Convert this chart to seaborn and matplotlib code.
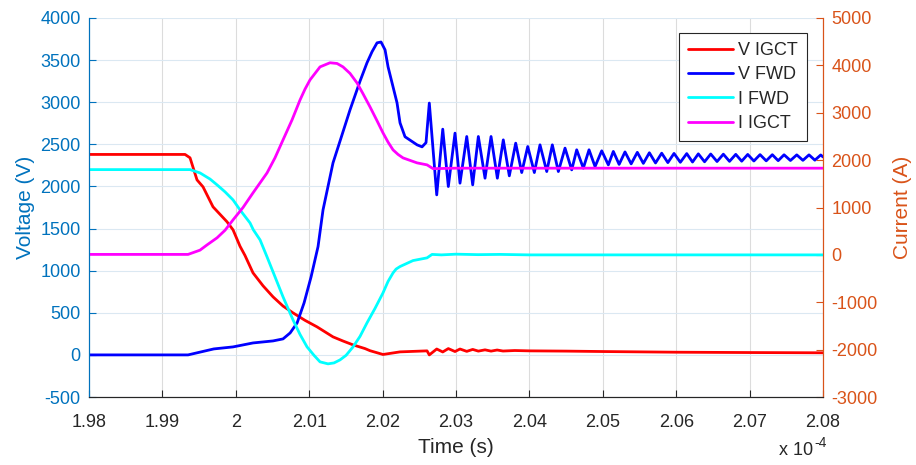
import matplotlib
matplotlib.use("Agg")
import matplotlib.pyplot as plt
import matplotlib.ticker as mticker
import pandas as pd
import seaborn as sns
import numpy as np

# time axis is in units of 1e-4 s
# V IGCT (left axis, volts)
v_igct_t = [1.98, 1.99308, 1.99376, 1.99471, 1.99553, 1.99689, 1.99880, 1.99962, 2.00057,
            2.00125, 2.00234, 2.00371, 2.00507, 2.00643, 2.00779, 2.00943, 2.01106, 2.01324,
            2.01460, 2.01597, 2.01760, 2.01828, 2.02005, 2.02237,
            2.02605, 2.02636, 2.02737, 2.02819, 2.02895, 2.02986, 2.03054, 2.03146, 2.03227,
            2.03304, 2.03395, 2.03477, 2.0356, 2.0364, 2.038, 2.04, 2.045, 2.05, 2.06, 2.07, 2.08]
v_igct = [2380, 2380, 2340, 2078, 1995, 1758, 1580, 1485, 1290,
          1180, 974, 820, 689, 580, 499, 410, 333, 214,
          165, 119, 75, 50, 5, 36,
          48, 0, 70, 35, 75, 40, 70, 42, 65,
          45, 60, 45, 58, 46, 52, 48, 45, 40, 32, 28, 25]

# V FWD (left axis) before the ringing
v_fwd_t = [1.98, 1.99349, 1.99700, 1.99962, 2.00234, 2.00507, 2.00643, 2.00740, 2.00835,
           2.00930, 2.01025, 2.01120, 2.01188, 2.01324, 2.01420, 2.01556, 2.01692, 2.01787,
           2.01856, 2.01924, 2.01978, 2.02033, 2.02074, 2.02196, 2.02237, 2.02305, 2.02469,
           2.02537, 2.02591]
v_fwd = [0, 0, 71, 95, 142, 166, 190, 261, 380,
         618, 926, 1286, 1722, 2280, 2540, 2910, 3250, 3468,
         3600, 3705, 3715, 3622, 3420, 2993, 2755, 2590, 2494,
         2470, 2520]

# V FWD ringing: peaks and troughs
ring_peak_t = [2.02636, 2.02819, 2.02986, 2.03146, 2.03304, 2.03477, 2.03644, 2.03813, 2.03977,
               2.04144, 2.04312, 2.04485, 2.04644, 2.04812, 2.04985, 2.05143, 2.05302, 2.05470,
               2.05634, 2.05802, 2.05970, 2.06143, 2.06301, 2.06470, 2.06642, 2.06811, 2.06974,
               2.07142, 2.07309, 2.07469, 2.07642, 2.07809, 2.07969]
ring_peak_v = [2990, 2680, 2633, 2593, 2593, 2593, 2553, 2514, 2474,
               2494, 2494, 2455, 2435, 2435, 2423, 2416, 2410, 2405,
               2400, 2395, 2392, 2390, 2387, 2385, 2383, 2381, 2380,
               2378, 2377, 2376, 2375, 2375, 2374]
ring_trough_t = [2.02737, 2.02895, 2.03054, 2.03227, 2.03395, 2.03563, 2.03726, 2.03895, 2.04067,
                 2.04236, 2.04394, 2.04576, 2.04734, 2.04894, 2.05075, 2.05222, 2.05386, 2.05552,
                 2.05718, 2.05886, 2.06056, 2.06222, 2.06386, 2.06556, 2.06726, 2.06892, 2.07058,
                 2.07226, 2.07389, 2.07556, 2.07726, 2.07889, 2.08]
ring_trough_v = [1900, 1999, 2039, 2019, 2098, 2098, 2126, 2165, 2165,
                 2177, 2177, 2197, 2217, 2236, 2256, 2262, 2268, 2274,
                 2279, 2283, 2287, 2290, 2293, 2296, 2298, 2300, 2302,
                 2304, 2306, 2308, 2310, 2312, 2350]

# I FWD (right axis, amps)
i_fwd_t = [1.98, 1.99376, 1.99512, 1.99649, 1.99744, 1.99853, 1.99962, 2.00057, 2.00193,
           2.00239, 2.00330, 2.00425, 2.00643, 2.00779, 2.00875, 2.00970, 2.01065, 2.01147,
           2.01256, 2.01338, 2.01420, 2.01502, 2.01597, 2.01692, 2.01787, 2.01896, 2.02005,
           2.02074, 2.02142, 2.02183, 2.02237, 2.02414, 2.02605, 2.02673, 2.028, 2.030, 2.033,
           2.036, 2.04, 2.05, 2.06, 2.07, 2.08]
i_fwd = [1800, 1800, 1730, 1600, 1478, 1330, 1160, 950, 675,
         528, 317, -42, -886, -1372, -1680, -1942, -2120, -2258,
         -2300, -2280, -2216, -2120, -1942, -1720, -1435, -1130, -802,
         -560, -380, -300, -246, -120, -63, 10, 0, 15, 5,
         10, 0, 0, 0, 0, 0]

# I IGCT (right axis)
i_igct_t = [1.98, 1.99349, 1.99512, 1.99608, 1.99744, 1.99853, 1.99962, 2.00098, 2.00234,
            2.00425, 2.00534, 2.00643, 2.00766, 2.00875, 2.00943, 2.01011, 2.01147, 2.01283,
            2.01379, 2.01460, 2.01556, 2.01651, 2.01733, 2.01828, 2.01924, 2.02005, 2.02074,
            2.02142, 2.02210, 2.02278, 2.02469, 2.02605, 2.02687, 2.03, 2.04, 2.05, 2.06,
            2.07, 2.08]
i_igct = [10, 10, 100, 211, 360, 520, 739, 1000, 1309,
          1730, 2050, 2427, 2850, 3271, 3500, 3694, 3968, 4055,
          4040, 3968, 3830, 3630, 3400, 3124, 2830, 2575, 2380,
          2216, 2120, 2047, 1942, 1900, 1820, 1830, 1830, 1830, 1830,
          1830, 1830]

blue_ax = "#0072BD"
orange_ax = "#D95319"
dark = "#262626"

sns.set_style("white")
plt.rcParams['font.family'] = ['Liberation Sans', 'DejaVu Sans']

fig = plt.figure(figsize=(9.16, 4.65), dpi=100)
ax = fig.add_axes([0.0972, 0.1462, 0.8013, 0.8151])
ax2 = ax.twinx()

vf = pd.DataFrame({'t': v_fwd_t + ring_peak_t + ring_trough_t,
                   'v': v_fwd + ring_peak_v + ring_trough_v}).sort_values('t')

lw = 2.0
kw = dict(lw=lw, estimator=None, legend=False, solid_joinstyle='round')
sns.lineplot(x=v_igct_t, y=v_igct, ax=ax, color='#FF0000', label='V IGCT', **kw)
sns.lineplot(data=vf, x='t', y='v', ax=ax, color='#0000FF', sort=False, label='V FWD', **kw)
sns.lineplot(x=i_fwd_t, y=i_fwd, ax=ax2, color='#00FFFF', label='I FWD', **kw)
sns.lineplot(x=i_igct_t, y=i_igct, ax=ax2, color='#FF00FF', label='I IGCT', **kw)

ax.set_xlim(1.98, 2.08)
ax.set_ylim(-500, 4000)
ax2.set_ylim(-3000, 5000)
ax.set_xticks(np.arange(1.98, 2.0801, 0.01))
ax.set_yticks(np.arange(-500, 4001, 500))
ax2.set_yticks(np.arange(-3000, 5001, 1000))
fmt = mticker.FuncFormatter(lambda v, p: '%g' % round(v, 4))
ax.xaxis.set_major_formatter(fmt)
ax.yaxis.set_major_formatter(fmt)
ax2.yaxis.set_major_formatter(fmt)

ax.grid(True, axis='x', color='#dcdcdc', lw=0.8)
ax.grid(True, axis='y', color='#dbe8f2', lw=0.8)
ax2.grid(False)

for a in (ax, ax2):
    a.spines['top'].set_visible(False)
    a.spines['left'].set_color(blue_ax)
    a.spines['right'].set_color(orange_ax)
    a.spines['bottom'].set_color(dark)
    a.spines['left'].set_visible(True)
    a.spines['right'].set_visible(True)
    a.spines['bottom'].set_visible(True)

ax.tick_params(axis='x', direction='in', length=5, colors=dark, labelsize=13, pad=12, bottom=True)
ax.tick_params(axis='y', direction='in', length=5, colors=blue_ax, labelsize=13, pad=6, left=True)
ax2.tick_params(axis='y', direction='in', length=5, colors=orange_ax, labelsize=13, pad=6, right=True)

ax.set_xlabel('Time (s)', fontsize=15, color=dark, labelpad=5.5)
ax.set_ylabel('Voltage (V)', fontsize=15, color=blue_ax, labelpad=4)
ax2.set_ylabel('Current (A)', fontsize=15, color=orange_ax, labelpad=11)

# MATLAB-style exponent note
ax.text(0.9864, -0.153, 'x 10', transform=ax.transAxes, ha='right', va='baseline',
        fontsize=13, color=dark)
ax.text(0.9878, -0.132, '-4', transform=ax.transAxes, ha='left', va='baseline',
        fontsize=10, color=dark)

h1, l1 = ax.get_legend_handles_labels()
h2, l2 = ax2.get_legend_handles_labels()
leg = ax2.legend(h1 + h2, l1 + l2, loc='upper right', bbox_to_anchor=(0.978, 0.96),
                 fontsize=13, frameon=True, fancybox=False, framealpha=1,
                 edgecolor=dark, handlelength=2.5, borderpad=0.5, labelspacing=0.4,
                 handletextpad=0.3, borderaxespad=0)
leg.get_frame().set_linewidth(0.8)

fig.savefig('out.png', dpi=100, facecolor='white')
